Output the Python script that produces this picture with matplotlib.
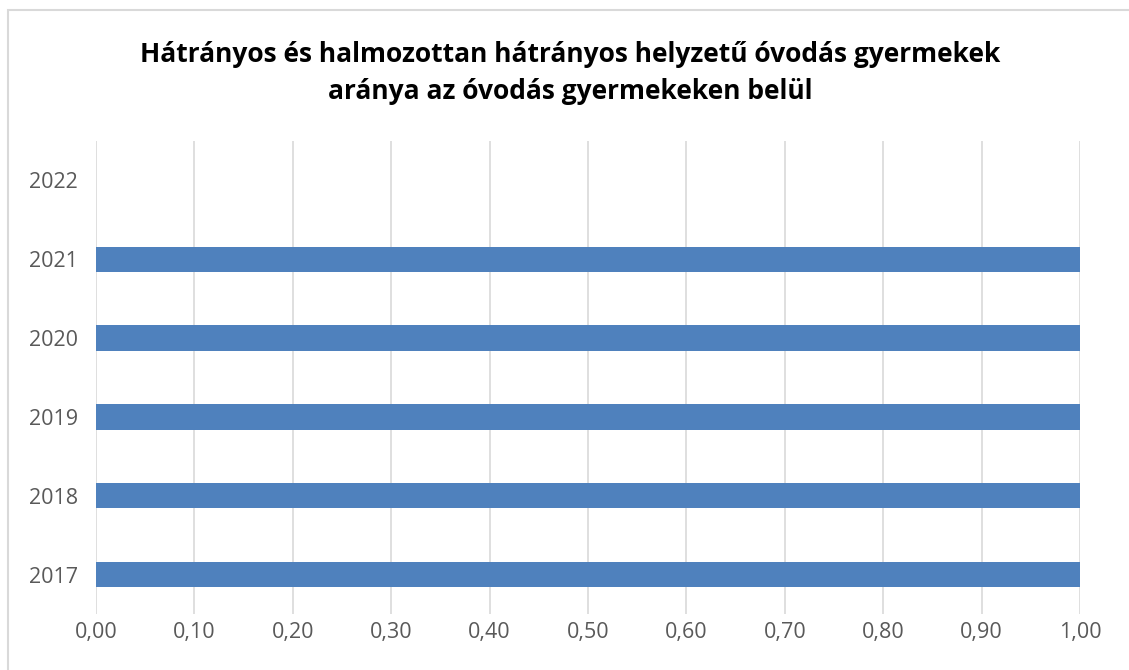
import matplotlib
matplotlib.use("Agg")
import matplotlib.pyplot as plt
from matplotlib.patches import Rectangle

years = ["2017", "2018", "2019", "2020", "2021", "2022"]
values = [1.0, 1.0, 1.0, 1.0, 1.0, 0.0]
xticks = [0.0, 0.1, 0.2, 0.3, 0.4, 0.5, 0.6, 0.7, 0.8, 0.9, 1.0]
xtick_labels = ["0,00", "0,10", "0,20", "0,30", "0,40", "0,50", "0,60", "0,70", "0,80", "0,90", "1,00"]
title = "Hátrányos és halmozottan hátrányos helyzetű óvodás gyermekek\naránya az óvodás gyermekeken belül"

W, H = 1129, 670
fig = plt.figure(figsize=(W / 100, H / 100), dpi=100)
fig.patch.set_facecolor("white")

# chart-area border
fig.patches.append(Rectangle((8 / W, -0.1), 1.2, 1 - 10 / H + 0.1, transform=fig.transFigure,
                             fill=False, edgecolor="#d9d9d9", linewidth=1.5, zorder=0))

ax = fig.add_axes([96 / W, 1 - 614 / H, (1080 - 96) / W, (614 - 141) / H])
ypos = list(range(len(years)))
ax.barh(ypos, values, height=0.32, color="#4f81bd", zorder=3)
ax.set_ylim(-0.5, len(years) - 0.5)
ax.set_xlim(0, 1.0)
ax.set_xticks(xticks)
ax.set_xticklabels(xtick_labels)
ax.set_yticks(ypos)
ax.set_yticklabels(years)
ax.grid(axis="x", color="#d9d9d9", linewidth=1.2, zorder=0)
for s in ax.spines.values():
    s.set_visible(False)
ax.tick_params(axis="both", length=0, labelsize=15.5, labelcolor="#595959")
ax.tick_params(axis="x", pad=6)
ax.tick_params(axis="y", pad=13)
for lab in ax.get_xticklabels() + ax.get_yticklabels():
    lab.set_fontfamily("Open Sans")

fig.text(0.505, 1 - 73 / H, title, ha="center", va="center", fontsize=19,
         fontweight="bold", fontfamily="Open Sans", linespacing=1.5, color="black")

fig.savefig("out.png", dpi=100)
